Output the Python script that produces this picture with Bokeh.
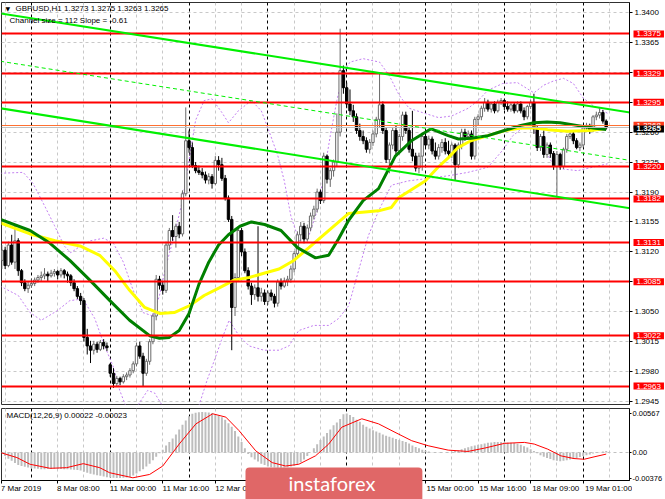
from bokeh.plotting import figure
from bokeh.models import Range1d, FixedTicker, PrintfTickFormatter, Label, ColumnDataSource
from bokeh.layouts import column
from bokeh.core.properties import value
from bokeh.embed import file_html
from bokeh.resources import INLINE

# ---------------- data (prices in points: 3122 -> 1.3122) ----------------
opens = [
    3110, 3122, 3104, 3128, 3108, 3133, 3098, 3084, 3077, 3081,
    3083, 3087, 3090, 3092, 3094, 3092, 3095, 3097, 3093, 3098,
    3094, 3092, 3084, 3077, 3068, 3063, 3020, 3010, 3005, 3012,
    3006, 3014, 3010, 2988, 2978, 2966, 2972, 2968, 2974, 2976,
    2981, 2989, 3010, 2998, 2978, 2992, 3015, 3045, 3088, 3081,
    3075, 3128, 3145, 3138, 3150, 3141, 3188, 3250, 3242, 3221,
    3215, 3213, 3210, 3204, 3208, 3200, 3227, 3222, 3206, 3183,
    3158, 3055, 3090, 3145, 3120, 3098, 3080, 3070, 3078, 3068,
    3072, 3062, 3072, 3068, 3060, 3085, 3080, 3086, 3088, 3100,
    3118, 3140, 3150, 3135, 3148, 3162, 3170, 3190, 3180, 3232,
    3205, 3215, 3225, 3260, 3332, 3312, 3293, 3285, 3278, 3262,
    3255, 3250, 3240, 3248, 3258, 3275, 3292, 3262, 3228, 3245,
    3262, 3238, 3255, 3280, 3262, 3240, 3232, 3218, 3232, 3255,
    3245, 3252, 3238, 3232, 3242, 3248, 3238, 3235, 3245, 3222,
    3245, 3260, 3255, 3258, 3232, 3275, 3278, 3288, 3295, 3287,
    3293, 3285, 3295, 3297, 3290, 3287, 3292, 3285, 3293, 3285,
    3278, 3290, 3295, 3264, 3242, 3255, 3234, 3245, 3235, 3220,
    3234, 3220, 3240, 3255, 3258, 3250, 3242, 3245, 3265, 3268,
    3262, 3278, 3280, 3283, 3273]
highs = [
    3128, 3126, 3132, 3140, 3151, 3136, 3100, 3088, 3085, 3088,
    3090, 3093, 3097, 3101, 3097, 3099, 3100, 3099, 3101, 3100,
    3097, 3094, 3088, 3080, 3072, 3066, 3030, 3016, 3016, 3015,
    3017, 3018, 3014, 2990, 2984, 2975, 2974, 2977, 2979, 2984,
    2992, 3014, 3015, 3002, 2995, 3018, 3048, 3093, 3092, 3086,
    3132, 3148, 3163, 3153, 3155, 3192, 3289, 3262, 3248, 3225,
    3221, 3218, 3214, 3212, 3211, 3232, 3232, 3230, 3210, 3186,
    3162, 3095, 3150, 3148, 3124, 3102, 3084, 3082, 3150, 3078,
    3076, 3075, 3076, 3071, 3088, 3089, 3090, 3092, 3104, 3121,
    3144, 3155, 3154, 3152, 3166, 3174, 3194, 3193, 3236, 3234,
    3218, 3228, 3282, 3381, 3338, 3318, 3310, 3292, 3282, 3270,
    3262, 3254, 3252, 3262, 3278, 3329, 3296, 3266, 3248, 3266,
    3268, 3258, 3284, 3284, 3266, 3285, 3236, 3236, 3258, 3260,
    3256, 3255, 3248, 3246, 3252, 3253, 3250, 3248, 3247, 3248,
    3264, 3264, 3262, 3262, 3278, 3281, 3291, 3300, 3298, 3295,
    3296, 3298, 3300, 3299, 3296, 3294, 3295, 3296, 3296, 3289,
    3292, 3298, 3305, 3268, 3258, 3262, 3248, 3248, 3238, 3238,
    3236, 3242, 3258, 3262, 3261, 3253, 3248, 3268, 3271, 3270,
    3280, 3284, 3288, 3286, 3275]
lows = [
    3100, 3100, 3102, 3105, 3100, 3092, 3080, 3074, 3072, 3078,
    3080, 3084, 3086, 3088, 3086, 3090, 3091, 3088, 3090, 3089,
    3084, 3080, 3074, 3065, 3058, 3015, 3000, 2990, 3000, 3002,
    3004, 3006, 3004, 2974, 2961, 2963, 2964, 2966, 2970, 2973,
    2978, 2986, 2995, 2962, 2975, 2988, 3012, 3040, 3076, 3070,
    3072, 3122, 3133, 3125, 3136, 3138, 3185, 3236, 3218, 3212,
    3210, 3206, 3200, 3199, 3194, 3198, 3215, 3203, 3180, 3155,
    3005, 3045, 3085, 3115, 3095, 3076, 3058, 3064, 3062, 3062,
    3058, 3058, 3063, 3055, 3056, 3076, 3078, 3080, 3084, 3096,
    3114, 3132, 3130, 3132, 3144, 3158, 3166, 3176, 3177, 3200,
    3196, 3208, 3220, 3255, 3305, 3288, 3280, 3272, 3258, 3250,
    3246, 3236, 3235, 3244, 3254, 3265, 3258, 3224, 3212, 3240,
    3234, 3234, 3250, 3258, 3236, 3226, 3214, 3212, 3215, 3242,
    3240, 3234, 3228, 3228, 3236, 3234, 3232, 3230, 3203, 3218,
    3240, 3250, 3252, 3228, 3228, 3268, 3274, 3284, 3284, 3283,
    3282, 3283, 3292, 3286, 3284, 3284, 3282, 3283, 3282, 3274,
    3275, 3287, 3258, 3238, 3238, 3230, 3230, 3230, 3216, 3184,
    3216, 3217, 3236, 3252, 3246, 3240, 3238, 3242, 3262, 3258,
    3260, 3274, 3276, 3270, 3263]
closes = [
    3122, 3104, 3128, 3108, 3133, 3098, 3084, 3077, 3081, 3083,
    3087, 3090, 3092, 3094, 3092, 3095, 3097, 3093, 3098, 3094,
    3092, 3084, 3077, 3068, 3063, 3020, 3010, 3005, 3012, 3006,
    3014, 3010, 3008, 2978, 2966, 2972, 2968, 2974, 2976, 2981,
    2989, 3010, 2998, 2978, 2992, 3015, 3045, 3088, 3081, 3075,
    3128, 3145, 3138, 3150, 3141, 3188, 3250, 3242, 3221, 3215,
    3213, 3210, 3204, 3208, 3200, 3227, 3222, 3206, 3183, 3158,
    3055, 3090, 3145, 3120, 3098, 3080, 3070, 3078, 3068, 3072,
    3062, 3072, 3068, 3060, 3085, 3080, 3086, 3088, 3100, 3118,
    3140, 3150, 3135, 3148, 3162, 3170, 3190, 3180, 3232, 3205,
    3215, 3225, 3260, 3332, 3312, 3293, 3285, 3278, 3262, 3255,
    3250, 3240, 3248, 3258, 3275, 3292, 3262, 3228, 3245, 3262,
    3238, 3255, 3280, 3262, 3240, 3232, 3218, 3232, 3255, 3245,
    3252, 3238, 3232, 3242, 3248, 3238, 3235, 3245, 3222, 3245,
    3260, 3255, 3258, 3232, 3275, 3278, 3288, 3295, 3287, 3293,
    3285, 3295, 3297, 3290, 3287, 3292, 3285, 3293, 3285, 3278,
    3290, 3295, 3264, 3242, 3255, 3234, 3245, 3235, 3220, 3234,
    3220, 3240, 3255, 3258, 3250, 3242, 3245, 3265, 3268, 3262,
    3278, 3280, 3283, 3273, 3265]

ma_green_x = [-0.5, 8.6, 14.7, 20.7, 26.8, 32.9, 38.9, 45, 48, 51, 54, 57, 60, 63, 66,
              69, 72.5, 76, 80, 85, 90, 95.5, 99.5, 102.5, 105.6, 110, 114.7, 119.8,
              124.7, 130.7, 135.9, 139, 143, 148, 153, 158, 162, 166, 170, 175, 180, 184]
ma_green = [3158, 3145, 3130, 3110, 3087, 3063, 3040, 3022, 3019, 3020, 3028, 3048, 3082,
            3108, 3128, 3140, 3150, 3155, 3152, 3145, 3125, 3113, 3116, 3135, 3157, 3180,
            3194, 3232, 3250, 3264, 3256, 3252, 3253, 3256, 3262, 3268, 3271, 3272, 3271,
            3268, 3265, 3263]
ma_yellow_x = [-0.5, 8.6, 16.2, 23.8, 29.8, 34.4, 38.9, 43.5, 48, 52.5, 57.1, 61.6, 66.2,
               70.7, 75.3, 79.8, 84.4, 88.9, 93.5, 99.5, 105.6, 114.7, 118.6, 120.7, 128.9,
               132.8, 135.9, 138.9, 142.8, 148, 153.2, 158, 162.2, 166.2, 172.2, 179.2, 183.5]
ma_yellow = [3154, 3141, 3133, 3127, 3116, 3098, 3075, 3055, 3048, 3049, 3057, 3069, 3078,
             3087, 3090, 3095, 3100, 3110, 3125, 3145, 3165, 3168, 3172, 3183, 3203, 3219,
             3230, 3242, 3250, 3256, 3262, 3265, 3265, 3263, 3261, 3262, 3264]

band_up_x = [-0.5, 6.5, 9.5, 13, 16, 19, 21, 24, 27, 31, 34, 37, 40, 43, 46, 48, 50, 52.5,
             55, 57, 59, 61.6, 64, 67, 69, 72, 76, 79, 81, 84, 86, 88, 90.5, 93.5, 96, 98,
             100, 102, 104, 106, 110, 115, 118, 121, 124, 128, 133, 137, 142, 145, 148,
             152.5, 157, 162, 165, 168, 171, 174, 177, 180, 184.5]
band_up = [3212, 3213, 3200, 3174, 3151, 3127, 3119, 3127, 3133, 3136, 3130, 3108, 3075,
           3049, 3045, 3069, 3104, 3139, 3180, 3227, 3274, 3297, 3299, 3283, 3271, 3285,
           3297, 3285, 3265, 3233, 3203, 3162, 3133, 3139, 3168, 3209, 3256, 3297, 3330,
           3342, 3346, 3342, 3326, 3303, 3288, 3283, 3277, 3279, 3288, 3297, 3309, 3317,
           3318, 3306, 3315, 3320, 3323, 3317, 3300, 3291, 3282]
band_dn_x = [-0.5, 5, 8.6, 12, 16.8, 20.7, 24.7, 28.3, 31.3, 33.8, 35.9, 38.3, 41.3, 44.4,
             46.5, 48.9, 52.5, 57, 60, 62.5, 64.7, 66.8, 69.2, 72.2, 75.3, 79.8, 84.4, 87.4,
             90.4, 95, 99.5, 102.5, 105.6, 108.6, 111.6, 114.7, 118.6, 123.7, 129.8, 135.9,
             141.9, 148, 152.5, 155.6, 158.6, 161.6, 164.7, 167.7, 170.7, 175.3, 179.8, 184.4]
band_dn = [3080, 3069, 3049, 3040, 3051, 3063, 3065, 3042, 3010, 2987, 2958, 2934, 2940,
           2958, 2955, 2940, 2923, 2917, 2940, 2970, 2993, 3016, 3040, 3022, 3010, 3005,
           3005, 3010, 3028, 3034, 3034, 3042, 3057, 3098, 3139, 3168, 3198, 3203, 3206,
           3209, 3213, 3219, 3239, 3256, 3265, 3265, 3244, 3223, 3217, 3215, 3219, 3223]

channel_x = [-0.5, 191.3]
channel_upper = [3399, 3283]
channel_middle = [3343, 3227]
channel_lower = [3288, 3171]

levels = [3375, 3329, 3295, 3220, 3182, 3131, 3085, 3022, 2963]
ask_level = 3268
bid_level = 3265
price_ticks = [3400, 3365, 3330, 3295, 3260, 3225, 3190, 3155, 3120, 3085, 3050, 3015, 2980, 2945]

# MACD (units of 1e-5)
macd_hist = [
    -10, -50, -90, -120, -150, -180,
    -195, -205, -215, -225, -230, -235, -240, -240, -238, -236, -235, -236, -238, -240, -242, -244, -246, -250,
    -260, -275, -290, -305, -315, -325, -335, -345, -355,
    -360, -363, -365, -365, -362, -358, -350,
    -330, -300, -270, -240, -200, -160, -110, -60, -10,
    40, 100, 150, 200, 260, 330, 400, 460, 520,
    555, 570, 578, 580, 578, 575, 568,
    550, 530, 505, 470, 420, 370, 310, 230, 150, 60,
    -20, -70, -100, -130, -160, -180, -200, -210, -215, -218, -220, -215, -210, -200, -190,
    -170, -140, -100, -50, 0, 60, 120, 180, 230, 280,
    330, 390, 430, 480, 550, 560, 540, 510, 470,
    440, 400, 370, 345, 320, 300, 285, 260, 240, 225, 210,
    195, 180, 165, 150, 130, 100, 80, 60, 40, 25, 15,
    5, 0, -5, -5, 0, 5, 10, 20, 30, 45,
    60, 75, 90, 100, 110, 120, 130, 140, 145, 150, 152, 150,
    148, 145, 140, 135, 125, 110, 90, 70, 45, 20,
    -10, -40, -60, -80, -95, -110, -120, -125, -120, -110,
    -100, -90, -80, -65, -50, -40, -30, -15, -5, 5, 15, 22]
signal_x = [-0.5, 4.6, 8.6, 14.7, 19.7, 24.8, 29.8, 32.8, 39.9, 45, 49, 54, 59.1, 64.2, 68.2,
            72.2, 77.3, 82.3, 86.4, 90.4, 95.5, 99.5, 103.5, 109.6, 114.7, 119.7, 124.8,
            129.8, 135.9, 141.9, 147, 153, 159.1, 162.1, 166.2, 170.2, 174.2, 177.3, 180.3, 184]
signal = [0, -73, -169, -227, -218, -160, -218, -290, -363, -315, -194, 121, 411, 556, 508,
          315, 24, -145, -194, -169, -48, 120, 363, 484, 411, 290, 169, 97, 34, 15, 63, 131,
          145, 121, 48, -48, -87, -97, -63, -23]
macd_ticks = [0.00567, 0.0, -0.00376]
macd_tick_labels = ["0.00567", "0.00", "-0.00376"]

grid_bars = [1, 17, 25, 41, 49, 65, 73, 89, 97, 113, 121, 137, 145, 161, 169, 185]
day_bars = [9, 33, 57, 81, 105, 129, 153, 177]
date_bars = [0, 17, 33, 49, 65, 81, 97, 113, 129, 145, 161, 177]
date_labels = ["7 Mar 2019", "8 Mar 08:00", "11 Mar 00:00", "11 Mar 16:00", "12 Mar 08:00",
               "13 Mar 00:00", "13 Mar 16:00", "14 Mar 08:00", "15 Mar 00:00", "15 Mar 16:00",
               "18 Mar 09:00", "19 Mar 01:00"]

title_text = "GBPUSD,H1  1.3273 1.3275 1.3263 1.3265"
channel_text = "Channel size = 112 Slope = -0.61"
macd_text = "MACD(12,26,9) 0.00022 -0.00023"


def P(v):
    return 1 + v / 10000.0


FONT = "Liberation Sans"
W = 665
x_range = Range1d(-0.1, 191.1)

# ---------------- main price panel ----------------
p = figure(width=W, height=407, x_range=x_range,
           y_range=Range1d(1.29415, 1.34117), x_axis_location=None, y_axis_location="right",
           output_backend="svg", toolbar_location=None, min_border_left=1,
           min_border_right=33, min_border_top=2, min_border_bottom=3,
           background_fill_color="white", border_fill_color="white",
           outline_line_color="#303030")
ax = p.yaxis[0]
ax.ticker = FixedTicker(ticks=[P(v) for v in price_ticks])
ax.formatter = PrintfTickFormatter(format="%.4f")
ax.major_label_text_font = FONT
ax.major_label_text_font_size = "8px"
ax.major_label_text_color = "black"
ax.major_tick_in = 0
ax.major_tick_out = 3
ax.minor_tick_line_color = None
ax.axis_line_color = "black"
ax.major_label_standoff = 2
p.ygrid.grid_line_color = "#c8c8c8"
p.ygrid.grid_line_dash = "3 3"
p.xgrid.grid_line_color = None

p.vspan(x=grid_bars, line_color="#c8c8c8", line_dash="3 3", line_width=1)
p.vspan(x=day_bars, line_color="black", line_dash="3 3", line_width=1)

n = len(closes)
bars = list(range(n))
up = [closes[i] >= opens[i] for i in range(n)]
src = ColumnDataSource(dict(
    x=bars,
    top=[P(max(opens[i], closes[i])) for i in range(n)],
    bottom=[P(min(opens[i], closes[i])) for i in range(n)],
    hi=[P(v) for v in highs], lo=[P(v) for v in lows],
    fill=["white" if u else "black" for u in up],
    line=["#6a6a6a" if u else "black" for u in up]))

p.line(band_up_x, [P(v) for v in band_up], line_color="#c27ff0", line_dash="2 2", line_width=1)
p.line(band_dn_x, [P(v) for v in band_dn], line_color="#c27ff0", line_dash="2 2", line_width=1)

p.segment(x0="x", y0="lo", x1="x", y1="hi", line_color="line", line_width=1, source=src)
p.vbar(x="x", top="top", bottom="bottom", width=0.72, fill_color="fill",
       line_color="line", line_width=1, source=src)

p.line(ma_yellow_x, [P(v) for v in ma_yellow], line_color="#ffff00", line_width=3)
p.line(ma_green_x, [P(v) for v in ma_green], line_color="#008000", line_width=3)

p.hspan(y=[P(v) for v in levels], line_color="#ff0000", line_width=2)
p.hspan(y=[P(bid_level)], line_color="#c0c0c0", line_width=1)
p.hspan(y=[P(ask_level)], line_color="#ff7030", line_width=1)

p.line(channel_x, [P(v) for v in channel_upper], line_color="#00f000", line_width=2)
p.line(channel_x, [P(v) for v in channel_lower], line_color="#00f000", line_width=2)
p.line(channel_x, [P(v) for v in channel_middle], line_color="#00f000", line_width=1,
       line_dash="4 3")

p.add_layout(Label(x=4, y=396, x_units="screen", y_units="screen", text="\u25bc",
                   text_font="DejaVu Sans", text_font_size="6px", text_color="black",
                   text_baseline="middle"))
p.add_layout(Label(x=14, y=396, x_units="screen", y_units="screen", text=title_text,
                   text_font=FONT, text_font_size="8px", text_color="black",
                   text_baseline="middle"))
p.add_layout(Label(x=8, y=384, x_units="screen", y_units="screen", text=channel_text,
                   text_font=FONT, text_font_size="8px", text_color="black",
                   text_baseline="middle"))

# ---------------- MACD panel ----------------
q = figure(width=W, height=92, x_range=x_range,
           y_range=Range1d(-0.00402, 0.006316), y_axis_location="right",
           x_axis_location="below", output_backend="svg", toolbar_location=None,
           min_border_left=1, min_border_right=33, min_border_top=1, min_border_bottom=19,
           background_fill_color="white", border_fill_color="white",
           outline_line_color="#303030")
qa = q.yaxis[0]
qa.ticker = FixedTicker(ticks=macd_ticks)
qa.major_label_overrides = {t: s for t, s in zip(macd_ticks, macd_tick_labels)}
qa.major_label_text_font = FONT
qa.major_label_text_font_size = "7.5px"
qa.major_label_text_color = "black"
qa.major_tick_in = 0
qa.major_tick_out = 2
qa.minor_tick_line_color = None
qa.axis_line_color = "black"
qa.major_label_standoff = 1
xa = q.xaxis[0]
xa.ticker = FixedTicker(ticks=date_bars)
xa.major_label_text_color = None
xa.major_label_text_font_size = "8px"
xa.major_tick_in = 0
xa.major_tick_out = 3
xa.minor_tick_line_color = None
xa.axis_line_color = "black"
q.grid.grid_line_color = None

q.vspan(x=grid_bars, line_color="#c8c8c8", line_dash="3 3", line_width=1)
q.vspan(x=day_bars, line_color="black", line_dash="3 3", line_width=1)
q.hspan(y=[0.0], line_color="#c0c0c0", line_dash="3 3", line_width=1)
q.vbar(x=list(range(len(macd_hist))), top=[v * 1e-5 for v in macd_hist], bottom=0,
       width=0.6, fill_color="#bdbdbd", line_color=None)
q.line(signal_x, [v * 1e-5 for v in signal], line_color="#ff0000", line_width=1)

q.add_layout(Label(x=5, y=65, x_units="screen", y_units="screen", text=macd_text,
                   text_font=FONT, text_font_size="8px", text_color="black",
                   text_baseline="middle"))

layout = column(p, q, spacing=0)

# ---------------- overlay: price tags over the right price scale ----------------
tags = figure(width=33, height=404, x_range=Range1d(0, 33), y_range=p.y_range,
              x_axis_location=None, y_axis_location=None, output_backend="svg",
              toolbar_location=None, min_border_left=0, min_border_right=0,
              min_border_top=2, min_border_bottom=0, background_fill_color=None,
              border_fill_color=None, outline_line_color=None,
              styles={"position": "absolute", "left": "632px", "top": "0px"})
tags.grid.visible = False
for v in levels:
    tags.add_layout(Label(x=1, x_units="screen", y=P(v), text=f"{P(v):.4f}",
                          text_font=FONT, text_font_size="8px", text_color="white",
                          text_align="left", text_baseline="middle",
                          background_fill_color="#ff0000", padding=(3, 3, 1, 1)))
tags.add_layout(Label(x=1, x_units="screen", y=P(ask_level), text=f"{P(ask_level):.4f}",
                      text_font=FONT, text_font_size="8px", text_color="white",
                      text_align="left", text_baseline="middle",
                      background_fill_color="#ff3a1a", padding=(3, 3, 1, 1)))
tags.add_layout(Label(x=1, x_units="screen", y=P(bid_level), text=f"{P(bid_level):.4f}",
                      text_font=FONT, text_font_size="8px", text_color="white",
                      text_font_style="bold", text_align="left", text_baseline="middle",
                      y_offset=-1, background_fill_color="black", padding=(3, 3, 1, 1)))

# ---------------- overlay: date scale and logo along the bottom ----------------
bot = figure(width=631, height=37, x_range=x_range, y_range=Range1d(0, 37),
             x_axis_location=None, y_axis_location=None, output_backend="svg",
             toolbar_location=None, min_border_left=0, min_border_right=0,
             min_border_top=0, min_border_bottom=0, background_fill_color=None,
             border_fill_color=None, outline_line_color=None,
             styles={"position": "absolute", "left": "1px", "top": "462px"})
bot.grid.visible = False
bot.text(x=date_bars, y=[16] * len(date_bars), text=date_labels, x_offset=-1,
         text_font=value(FONT), text_font_size="8px", text_color="black",
         text_align="left", text_baseline="top")
bot.add_layout(Label(x=244, y=-4, x_units="screen", y_units="screen", text="instaforex",
                     text_font="Lato", text_font_size="20px", text_color="white",
                     text_align="left", text_baseline="bottom",
                     background_fill_color="#e06767", border_radius=4,
                     padding=(43, 47, 3, 9)))

open("out.html", "w").write(file_html([layout, tags, bot], INLINE))
